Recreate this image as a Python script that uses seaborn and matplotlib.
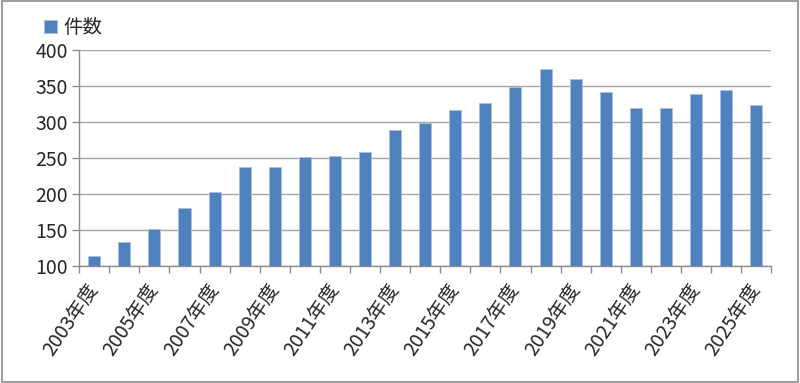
import numpy as np
import pandas as pd
import matplotlib.pyplot as plt
import seaborn as sns
from matplotlib.patches import Rectangle

sns.set_theme(style="white")
plt.rcParams['font.family'] = ['Noto Sans CJK JP', 'DejaVu Sans']

# data
years = [f"{y}年度" for y in range(2003, 2026)]
counts = [114, 134, 152, 180, 203, 237, 238, 252, 253, 259, 289, 299,
          316, 326, 349, 374, 360, 342, 320, 319, 339, 345, 323]
series_name = '件数'

df = pd.DataFrame({'年度': years, series_name: counts})

fig = plt.figure(figsize=(8.0, 3.83), dpi=100)
ax = fig.add_axes([0.099, 0.3055, 0.865, 0.564])

sns.barplot(data=df, x='年度', y=series_name, color='#4F81BD', width=0.4,
            saturation=1, edgecolor='#a9c0e0', linewidth=0.6,
            label=series_name, ax=ax)

ax.set_ylim(100, 400)
ax.set_xlim(-0.5, len(years) - 0.5)
ax.set_yticks(range(100, 401, 50))
ax.yaxis.grid(True, color='#a6a6a6', linewidth=1.0)
ax.set_axisbelow(True)
ax.set_xlabel('')
ax.set_ylabel('')

for s in ['top', 'right']:
    ax.spines[s].set_visible(False)
for s in ['left', 'bottom']:
    ax.spines[s].set_color('#8c8c8c')
    ax.spines[s].set_linewidth(1.0)

# labels every other year, tick marks at category boundaries
idx = np.arange(0, len(years), 2)
ax.set_xticks(idx)
ax.set_xticklabels([years[i] for i in idx], rotation=56, ha='right',
                   va='center', rotation_mode='anchor', fontsize=14)
ax.tick_params(axis='x', which='major', length=0, pad=14)
ax.set_xticks(np.arange(-0.5, len(years)), minor=True)
ax.tick_params(axis='x', which='minor', length=5, color='#8c8c8c', width=1.0,
               direction='out', bottom=True)
ax.tick_params(axis='y', length=5, color='#8c8c8c', width=1.0,
               direction='out', left=True, labelsize=14, pad=3)

leg = fig.legend(loc='upper left', bbox_to_anchor=(0.045, 0.975), frameon=False,
                 fontsize=14, handlelength=0.7, handleheight=0.7,
                 handletextpad=0.3, borderaxespad=0)
ax.get_legend() and ax.get_legend().remove()

# outer frame of the chart area
fig.patches.append(Rectangle((0.002, 0.003), 0.996, 0.994, transform=fig.transFigure,
                             fill=False, edgecolor='#8c8c8c', linewidth=1.2))

fig.savefig('out.png', dpi=100)
